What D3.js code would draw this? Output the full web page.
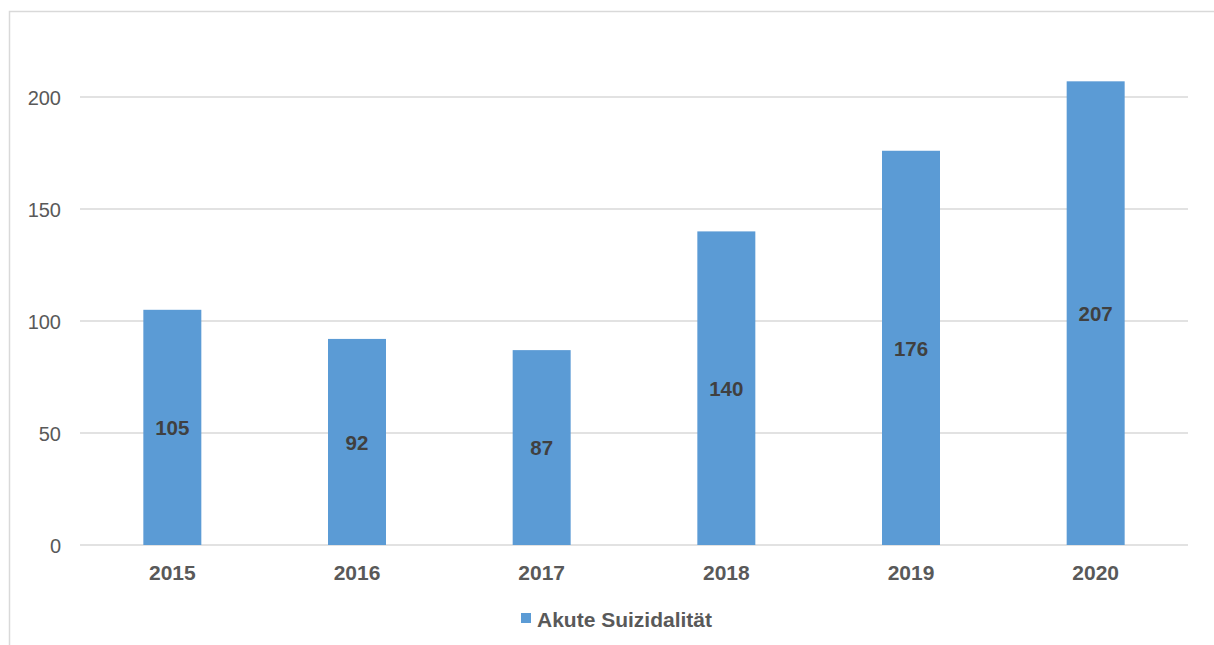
<!DOCTYPE html>
<html>
<head>
<meta charset="utf-8">
<script src="https://cdn.jsdelivr.net/npm/d3@7"></script>
<style>
  body { margin: 0; background: #fff; }
  text { font-family: "Liberation Sans", Arial, sans-serif; }
</style>
</head>
<body>
<svg id="chart" width="1214" height="645"></svg>
<script>
// data
var years = ["2015", "2016", "2017", "2018", "2019", "2020"];
var values = [105, 92, 87, 140, 176, 207];
var yTicks = [0, 50, 100, 150, 200];
var seriesName = "Akute Suizidalität";

var svg = d3.select("#chart");
var width = +svg.attr("width");
var height = +svg.attr("height");

// outer chart frame (top and left edges visible)
svg.append("rect")
  .attr("x", 9.5).attr("y", 11.5)
  .attr("width", width + 20).attr("height", height + 20)
  .attr("fill", "none")
  .attr("stroke", "#d9d9d9")
  .attr("stroke-width", 1.5);

var margin = { left: 80, right: 26, top: 30, bottom: 100 };

var x = d3.scaleBand()
  .domain(years)
  .range([margin.left, width - margin.right])
  .paddingInner(0.686)
  .paddingOuter(0.343);

var y = d3.scaleLinear()
  .domain([0, 200])
  .range([545, 97]);

// gridlines
svg.append("g")
  .selectAll("line")
  .data(yTicks)
  .join("line")
  .attr("x1", margin.left)
  .attr("x2", width - margin.right)
  .attr("y1", function(d) { return y(d); })
  .attr("y2", function(d) { return y(d); })
  .attr("stroke", "#d9d9d9")
  .attr("stroke-width", 1.5);

// y axis labels
var yAxis = d3.axisLeft(y).tickValues(yTicks).tickSize(0).tickPadding(0);
var gy = svg.append("g")
  .attr("transform", "translate(61,0)")
  .call(yAxis);
gy.select(".domain").remove();
gy.selectAll("text")
  .attr("fill", "#595959")
  .style("font-size", "20px")
  .attr("dy", "0.36em");

// bars
svg.append("g")
  .selectAll("rect")
  .data(values)
  .join("rect")
  .attr("x", function(d, i) { return x(years[i]); })
  .attr("y", function(d) { return y(d); })
  .attr("width", x.bandwidth())
  .attr("height", function(d) { return y(0) - y(d); })
  .attr("fill", "#5b9bd5");

// value labels in the middle of each bar
svg.append("g")
  .selectAll("text")
  .data(values)
  .join("text")
  .attr("x", function(d, i) { return x(years[i]) + x.bandwidth() / 2; })
  .attr("y", function(d) { return (y(d) + y(0)) / 2; })
  .attr("dy", "0.38em")
  .attr("text-anchor", "middle")
  .attr("fill", "#404040")
  .style("font-size", "20.5px")
  .style("font-weight", "bold")
  .text(function(d) { return d; });

// x axis
var xAxis = d3.axisBottom(x).tickSize(0).tickPadding(0);
var gx = svg.append("g")
  .attr("transform", "translate(0," + y(0) + ")")
  .call(xAxis);
gx.select(".domain").remove();
gx.selectAll("text")
  .attr("fill", "#595959")
  .attr("y", 34.5)
  .attr("dy", 0)
  .style("font-size", "21px")
  .style("font-weight", "bold");

// legend
var legend = svg.append("g").attr("transform", "translate(521,613)");
legend.append("rect")
  .attr("width", 10).attr("height", 10)
  .attr("fill", "#5b9bd5");
legend.append("text")
  .attr("x", 16).attr("y", 13.5)
  .attr("fill", "#595959")
  .style("font-size", "21px")
  .style("font-weight", "bold")
  .text(seriesName);
</script>
</body>
</html>
